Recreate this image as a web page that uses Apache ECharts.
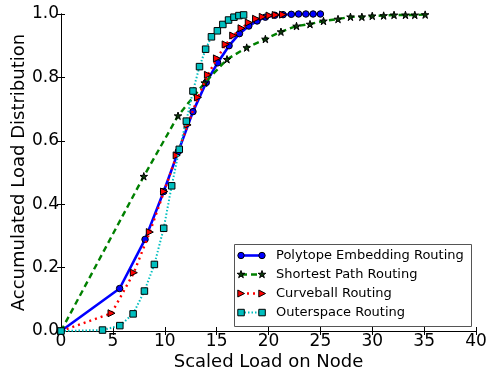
<!DOCTYPE html>
<html>
<head>
<meta charset="utf-8">
<script src="https://cdn.jsdelivr.net/npm/echarts@6/dist/echarts.min.js"></script>
<style>
  html, body { margin: 0; padding: 0; background: #fff; }
  #chart { width: 490px; height: 375px; }
</style>
</head>
<body>
<div id="chart"></div>
<script>
// Series names (legend order)
const seriesNames = [
  'Polytope Embedding Routing',
  'Shortest Path Routing',
  'Curveball Routing',
  'Outerspace Routing'
];

// Polytope Embedding Routing
const polytopeX = [0, 5.65, 8.1, 9.9, 11.3, 12.72, 14.0, 15.1, 16.2, 17.2, 18.1, 18.9, 19.7, 20.6, 21.4, 22.2, 22.9, 23.6, 24.3, 25.0];
const polytopeY = [0, 0.134, 0.289, 0.44, 0.566, 0.692, 0.784, 0.846, 0.9, 0.938, 0.962, 0.978, 0.99, 0.996, 0.998, 0.999, 1, 1, 1, 1];

// Shortest Path Routing
const shortestX = [0, 7.98, 11.28, 13.85, 16.0, 17.9, 19.7, 21.2, 22.7, 24.0, 25.3, 26.7, 27.9, 29.0, 30.0, 31.1, 32.1, 33.2, 34.1, 35.1];
const shortestY = [0, 0.488, 0.679, 0.783, 0.857, 0.894, 0.921, 0.944, 0.962, 0.968, 0.978, 0.984, 0.991, 0.991, 0.994, 0.995, 0.997, 0.997, 0.997, 0.998];

// Curveball Routing
const curveballX = [0, 4.87, 7.02, 8.56, 9.93, 11.15, 12.2, 13.2, 14.16, 15.03, 15.87, 16.6, 17.4, 18.1, 18.8, 19.45, 20.1, 20.7, 21.4];
const curveballY = [0, 0.056, 0.184, 0.312, 0.44, 0.554, 0.65, 0.737, 0.808, 0.86, 0.904, 0.932, 0.955, 0.973, 0.985, 0.991, 0.995, 0.997, 0.998];

// Outerspace Routing
const outerX = [0, 4.0, 5.67, 6.95, 8.04, 9.0, 9.9, 10.67, 11.4, 12.08, 12.72, 13.35, 13.94, 14.5, 15.07, 15.6, 16.15, 16.67, 17.15, 17.6];
const outerY = [0, 0.003, 0.017, 0.054, 0.126, 0.21, 0.324, 0.458, 0.573, 0.662, 0.757, 0.834, 0.889, 0.928, 0.947, 0.967, 0.981, 0.99, 0.995, 0.997];

// Axes
const xMin = 0, xMax = 40, xStep = 5;
const yMin = 0, yMax = 1, yStep = 0.2;
const xTitle = 'Scaled Load on Node';
const yTitle = 'Accumulated Load Distribution';

const FONT = 'DejaVu Sans';

function zip(xs, ys) { return xs.map((x, i) => [x, ys[i]]); }

// Five-pointed star polygon centred on (cx,cy) with outer radius r
function starPoints(cx, cy, r) {
  const pts = [];
  for (let i = 0; i < 10; i++) {
    const a = -Math.PI / 2 + i * Math.PI / 5;
    const rr = i % 2 === 0 ? r : r * 0.38;
    pts.push([cx + rr * Math.cos(a), cy + rr * Math.sin(a)]);
  }
  return pts;
}
const starPath = 'path://M50,0 L61.17,34.63 L97.55,34.55 L68.07,55.87 L79.4,90.45 L50,69 L20.6,90.45 L31.93,55.87 L2.45,34.55 L38.83,34.63 Z';
const triRightPath = 'path://M0,0 L10,5 L0,10 Z';

const styles = [
  { color: '#0000ff', markColor: '#0000ff', type: 'solid', width: 2.6, symbol: 'circle', size: 6.5, kind: 'circle' },
  { color: '#008000', markColor: '#0b3a0b', type: [6, 4], width: 2.4, symbol: starPath, size: 7.5, kind: 'star' },
  { color: '#ff0000', markColor: '#ff0000', type: [2, 4], width: 2.4, symbol: triRightPath, size: 7, kind: 'tri' },
  { color: '#00bfbf', markColor: '#00bfbf', type: [1.5, 2], width: 2, symbol: 'rect', size: 6.5, kind: 'square' }
];
const dataSets = [zip(polytopeX, polytopeY), zip(shortestX, shortestY), zip(curveballX, curveballY), zip(outerX, outerY)];

const series = seriesNames.map((name, i) => ({
  name,
  type: 'line',
  data: dataSets[i],
  symbol: styles[i].symbol,
  symbolSize: styles[i].size,
  showAllSymbol: true,
  lineStyle: { color: styles[i].color, width: styles[i].width, type: styles[i].type },
  itemStyle: { color: styles[i].markColor, borderColor: '#000', borderWidth: 1 },
  emphasis: { disabled: true },
  z: 2 + i
}));

// Legend box drawn with graphic elements
const legendX = 234, legendY = 244, legendW = 237, legendH = 82;
const rowY0 = 255.5, rowStep = 19;
const lineX0 = 241, lineX1 = 262, textX = 276;

function markerShape(kind, cx, cy, st) {
  const common = { style: { fill: st.markColor, stroke: '#000', lineWidth: 1 }, z: 110 };
  if (kind === 'circle') return Object.assign({ type: 'circle', shape: { cx, cy, r: 3.2 } }, common);
  if (kind === 'square') return Object.assign({ type: 'rect', shape: { x: cx - 3.2, y: cy - 3.2, width: 6.5, height: 6.5 } }, common);
  if (kind === 'tri') return Object.assign({ type: 'polygon', shape: { points: [[cx - 3.2, cy - 3.5], [cx + 3.5, cy], [cx - 3.2, cy + 3.5]] } }, common);
  return Object.assign({ type: 'polygon', shape: { points: starPoints(cx, cy, 4) } }, common);
}

const legendEls = [{
  type: 'rect',
  shape: { x: legendX + 0.5, y: legendY + 0.5, width: legendW, height: legendH },
  style: { fill: '#fff', stroke: '#555', lineWidth: 1 },
  z: 100
}];
seriesNames.forEach((name, i) => {
  const y = rowY0 + i * rowStep;
  const st = styles[i];
  legendEls.push({
    type: 'line',
    shape: { x1: lineX0, y1: y, x2: lineX1, y2: y },
    style: { stroke: st.color, lineWidth: st.width, lineDash: st.type === 'solid' ? null : st.type },
    z: 105
  });
  legendEls.push(markerShape(st.kind, lineX0, y, st));
  legendEls.push(markerShape(st.kind, lineX1, y, st));
  legendEls.push({
    type: 'text',
    x: textX, y: y,
    style: { text: name, fill: '#000', font: '13px "' + FONT + '"', textVerticalAlign: 'middle', textAlign: 'left' },
    z: 110
  });
});

const axisLine = { show: true, lineStyle: { color: '#000', width: 1 } };
const tick = { show: true, inside: true, length: 4, lineStyle: { color: '#000', width: 1 } };

const option = {
  animation: false,
  backgroundColor: '#fff',
  grid: { left: 61, right: 14, top: 14, bottom: 44, containLabel: false, outerBoundsMode: 'none' },
  xAxis: [{
    type: 'value', min: xMin, max: xMax, interval: xStep,
    name: xTitle, nameLocation: 'middle', nameGap: 22, nameMoveOverlap: false,
    nameTextStyle: { fontFamily: FONT, fontSize: 18, color: '#000' },
    axisLine, axisTick: tick, splitLine: { show: false },
    axisLabel: { fontFamily: FONT, fontSize: 17, color: '#000', margin: 2 }
  }, {
    type: 'value', position: 'top', min: xMin, max: xMax, interval: xStep,
    axisLine, axisTick: tick, splitLine: { show: false }, axisLabel: { show: false }
  }],
  yAxis: [{
    type: 'value', min: yMin, max: yMax, interval: yStep,
    name: yTitle, nameLocation: 'middle', nameGap: 33, nameRotate: 90, nameMoveOverlap: false,
    nameTextStyle: { fontFamily: FONT, fontSize: 18, color: '#000' },
    axisLine, axisTick: tick, splitLine: { show: false },
    axisLabel: { fontFamily: FONT, fontSize: 17, color: '#000', margin: 2, formatter: v => v.toFixed(1) }
  }, {
    type: 'value', position: 'right', min: yMin, max: yMax, interval: yStep,
    axisLine, axisTick: tick, splitLine: { show: false }, axisLabel: { show: false }
  }],
  series,
  graphic: legendEls
};

const chart = echarts.init(document.getElementById('chart'), null, { renderer: 'canvas' });
chart.setOption(option);
</script>
</body>
</html>
